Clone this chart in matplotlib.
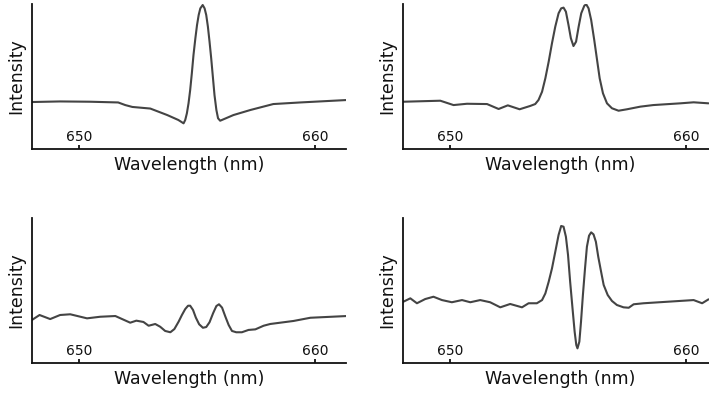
import numpy as np
import matplotlib.pyplot as plt

# wavelength (nm) / intensity (a.u., 0..1 axis range)
wl_a = [648.01, 649.19, 650.47, 651.65, 651.95, 652.25, 653.01, 653.73, 654.20, 654.42,
        654.49, 654.56, 654.63, 654.70, 654.77, 654.84, 654.92, 654.99, 655.06, 655.13,
        655.23, 655.31, 655.38, 655.45, 655.52, 655.59, 655.66, 655.73, 655.81, 655.88,
        655.97, 656.53, 657.25, 658.22, 659.36, 661.36]
int_a = [0.324, 0.328, 0.326, 0.321, 0.303, 0.290, 0.279, 0.234, 0.200, 0.177,
         0.200, 0.246, 0.315, 0.407, 0.522, 0.648, 0.764, 0.855, 0.924, 0.970,
         0.993, 0.970, 0.924, 0.844, 0.740, 0.626, 0.499, 0.372, 0.269, 0.212,
         0.195, 0.234, 0.269, 0.310, 0.321, 0.338]

wl_b = [648.02, 649.58, 650.14, 650.71, 651.56, 652.05, 652.44, 652.94, 653.39, 653.60,
        653.74, 653.89, 654.03, 654.17, 654.31, 654.45, 654.59, 654.70, 654.80, 654.90,
        655.01, 655.11, 655.22, 655.33, 655.44, 655.55, 655.68, 655.76, 655.86, 655.97,
        656.10, 656.22, 656.33, 656.47, 656.64, 656.85, 657.13, 657.49, 658.05, 658.60,
        659.75, 660.31, 660.94]
int_b = [0.326, 0.333, 0.303, 0.312, 0.310, 0.276, 0.301, 0.274, 0.297, 0.310,
         0.338, 0.395, 0.488, 0.602, 0.729, 0.844, 0.936, 0.970, 0.975, 0.947,
         0.855, 0.764, 0.710, 0.740, 0.844, 0.936, 0.988, 0.998, 0.970, 0.890,
         0.752, 0.614, 0.488, 0.384, 0.315, 0.281, 0.264, 0.274, 0.292, 0.303,
         0.315, 0.322, 0.315]

wl_c = [648.00, 648.32, 648.77, 649.19, 649.62, 650.33, 650.89, 651.53, 652.16, 652.42,
        652.72, 652.94, 653.22, 653.43, 653.64, 653.86, 654.03, 654.21, 654.35, 654.49,
        654.61, 654.70, 654.82, 654.94, 655.08, 655.24, 655.38, 655.52, 655.67, 655.81,
        655.92, 656.05, 656.19, 656.33, 656.47, 656.65, 656.89, 657.17, 657.46, 657.81,
        658.09, 659.08, 659.79, 661.34]
int_c = [0.297, 0.331, 0.303, 0.331, 0.336, 0.308, 0.319, 0.324, 0.278, 0.292,
         0.283, 0.257, 0.269, 0.250, 0.221, 0.212, 0.234, 0.285, 0.331, 0.372,
         0.395, 0.395, 0.366, 0.313, 0.267, 0.243, 0.248, 0.281, 0.343, 0.393,
         0.405, 0.382, 0.320, 0.262, 0.221, 0.212, 0.212, 0.228, 0.232, 0.257,
         0.269, 0.290, 0.312, 0.324]

wl_d = [648.02, 648.31, 648.59, 648.94, 649.29, 649.65, 650.07, 650.50, 650.85, 651.27,
        651.69, 652.12, 652.54, 653.04, 653.32, 653.67, 653.89, 654.03, 654.17, 654.31,
        654.45, 654.59, 654.70, 654.80, 654.90, 654.99, 655.08, 655.18, 655.27, 655.34,
        655.39, 655.47, 655.54, 655.62, 655.71, 655.79, 655.88, 655.97, 656.07, 656.17,
        656.27, 656.39, 656.50, 656.67, 656.85, 657.06, 657.34, 657.56, 657.77, 658.19,
        660.31, 660.67, 660.94]
int_d = [0.423, 0.446, 0.412, 0.441, 0.457, 0.434, 0.419, 0.434, 0.419, 0.434,
         0.419, 0.384, 0.407, 0.384, 0.412, 0.412, 0.434, 0.480, 0.560, 0.652,
         0.767, 0.883, 0.945, 0.940, 0.871, 0.745, 0.560, 0.377, 0.216, 0.124,
         0.101, 0.147, 0.285, 0.469, 0.653, 0.802, 0.878, 0.901, 0.887, 0.836,
         0.733, 0.630, 0.538, 0.469, 0.428, 0.400, 0.384, 0.381, 0.405, 0.412,
         0.434, 0.412, 0.439]

ticks = [650, 660]

fig = plt.figure(figsize=(7.09, 3.95), dpi=100)
W, H = 709, 395
# left x, top y (pixels) of each panel
boxes = [(32, 4), (403, 4), (32, 218), (403, 218)]
series = [(wl_a, int_a), (wl_b, int_b), (wl_c, int_c), (wl_d, int_d)]

for (px, py), (wl, inten) in zip(boxes, series):
    ax = fig.add_axes([px / W, 1 - (py + 145) / H, 314 / W, 145 / H])
    ax.plot(wl, inten, color='#444444', lw=1.5, solid_joinstyle='round',
            solid_capstyle='round')
    ax.set_xlim(648.0, 661.3)
    ax.set_ylim(0, 1)
    ax.spines['top'].set_visible(False)
    ax.spines['right'].set_visible(False)
    for s in ('left', 'bottom'):
        ax.spines[s].set_linewidth(1.3)
        ax.spines[s].set_color('#111111')
    ax.set_xticks(ticks)
    ax.set_yticks([])
    ax.tick_params(axis='x', direction='in', length=3, width=1.3, pad=-14,
                   labelsize=10, colors='#111111')
    ax.set_xlabel('Wavelength (nm)', fontsize=12.5, labelpad=5, color='#111111')
    ax.set_ylabel('Intensity', fontsize=12.5, labelpad=5, color='#111111')

fig.savefig('out.png', dpi=100)
